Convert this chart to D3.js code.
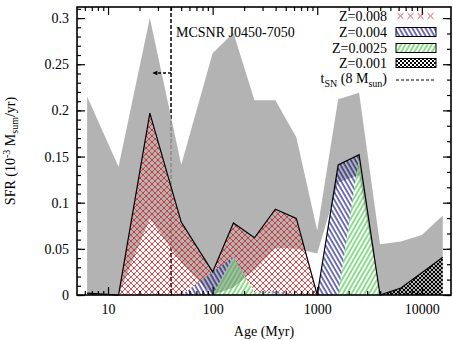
<!DOCTYPE html>
<html>
<head>
<meta charset="utf-8">
<script src="https://cdn.jsdelivr.net/npm/d3@7"></script>
<style>
  body { margin: 0; background: #fff; }
  text { font-family: "Liberation Serif", "Times New Roman", serif; font-size: 14px; fill: #000; }
</style>
</head>
<body>
<div id="chart"></div>
<script>
// Age bins (Myr) and SFR per metallicity (10^-3 Msun/yr)
const ages = [6.31, 12.6, 25.1, 50.1, 100, 158, 251, 398, 631, 1000, 1585, 2512, 3981, 6310, 10000, 15849];
const sfrZ008 = [0.002, 0, 0.197, 0.079, 0, 0.0365, 0.059, 0.089, 0.083, 0, 0, 0, 0, 0, 0, 0];
const sfrZ004 = [0, 0, 0, 0, 0.025, 0, 0, 0.002, 0, 0, 0.141, 0.002, 0, 0, 0, 0];
const sfrZ0025 = [0, 0, 0, 0, 0, 0.0415, 0.003, 0.002, 0, 0, 0, 0.150, 0, 0, 0, 0];
const sfrZ001 = [0, 0, 0, 0, 0, 0, 0, 0, 0, 0, 0, 0, 0, 0.0075, 0.024, 0.041];

// error envelope of the total SFR
const sfrUpper = [0.215, 0.139, 0.300, 0.141, 0.262, 0.284, 0.211, 0.211, 0.171, 0.070, 0.212, 0.219, 0.055, 0.058, 0.065, 0.086];
const sfrLower = [0, 0, 0.083, 0.035, 0, 0.008, 0.027, 0.051, 0.050, 0.045, 0.122, 0.130, 0, 0, 0, 0];

// SN progenitor lifetime (8 Msun) and its limit arrow
const snAge = 40;
const snAgeLimit = 26.5;
const snArrowSfr = 0.2405;

const xMajorTicks = [10, 100, 1000, 10000];
const yMajorTicks = [0, 0.05, 0.1, 0.15, 0.2, 0.25, 0.3];

const legendItems = [
  { key: "z008", label: "Z=0.008" },
  { key: "z004", label: "Z=0.004" },
  { key: "z0025", label: "Z=0.0025" },
  { key: "z001", label: "Z=0.001" }
];

const margin = { top: 7, right: 2, bottom: 45, left: 77 };
const width = 453 - margin.left - margin.right;
const height = 340 - margin.top - margin.bottom;

const svg = d3.select("#chart")
  .append("svg")
  .attr("width", 453)
  .attr("height", 340);

// hatch patterns
const defs = svg.append("defs");

const pRed = defs.append("pattern").attr("id", "pat-z008")
  .attr("patternUnits", "userSpaceOnUse").attr("width", 6).attr("height", 6);
pRed.append("path").attr("d", "M0,0L6,6M6,0L0,6")
  .attr("stroke", "#d81c1c").attr("stroke-width", 0.75).attr("fill", "none");
pRed.append("circle").attr("cx", 3).attr("cy", 3).attr("r", 0.7).attr("fill", "#d81c1c");

const pBlue = defs.append("pattern").attr("id", "pat-z004")
  .attr("patternUnits", "userSpaceOnUse").attr("width", 3.8).attr("height", 10)
  .attr("patternTransform", "rotate(-30)");
pBlue.append("line").attr("x1", 1).attr("y1", 0).attr("x2", 1).attr("y2", 10)
  .attr("stroke", "#00007c").attr("stroke-width", 1.1);

const pGreen = defs.append("pattern").attr("id", "pat-z0025")
  .attr("patternUnits", "userSpaceOnUse").attr("width", 3.8).attr("height", 10)
  .attr("patternTransform", "rotate(30)");
pGreen.append("line").attr("x1", 1).attr("y1", 0).attr("x2", 1).attr("y2", 10)
  .attr("stroke", "#2fc42f").attr("stroke-width", 1.1);

const pBlack = defs.append("pattern").attr("id", "pat-z001")
  .attr("patternUnits", "userSpaceOnUse").attr("width", 4).attr("height", 4);
pBlack.append("rect").attr("x", 0).attr("y", 0).attr("width", 2).attr("height", 2).attr("fill", "#000");
pBlack.append("rect").attr("x", 2).attr("y", 2).attr("width", 2).attr("height", 2).attr("fill", "#000");

const pRedKey = defs.append("pattern").attr("id", "pat-z008-key")
  .attr("patternUnits", "userSpaceOnUse").attr("width", 10).attr("height", 9)
  .attr("x", 396).attr("y", 11.5);
pRedKey.append("path").attr("d", "M1.5,1.5L7.5,7.5M7.5,1.5L1.5,7.5")
  .attr("stroke", "#e03030").attr("stroke-width", 0.9).attr("fill", "none");

const g = svg.append("g")
  .attr("transform", "translate(" + margin.left + "," + margin.top + ")");

const x = d3.scaleLog()
  .domain([5.05, 19000])
  .range([0, width]);

const y = d3.scaleLinear()
  .domain([0, 0.312])
  .range([height, 0]);

// SN lifetime line (drawn below the envelope)
g.append("line")
  .attr("x1", x(snAge)).attr("x2", x(snAge))
  .attr("y1", 0).attr("y2", height)
  .attr("stroke", "#000").attr("stroke-width", 1.5)
  .attr("stroke-dasharray", "4,2");

// error envelope
const band = d3.area()
  .x((d, i) => x(ages[i]))
  .y0((d, i) => y(sfrLower[i]))
  .y1((d, i) => y(sfrUpper[i]));

g.append("path")
  .datum(ages)
  .attr("d", band)
  .attr("fill", "rgb(164,164,164)")
  .attr("fill-opacity", 0.83);

// stacked metallicity contributions
const rows = ages.map((a, i) => ({
  age: a, z001: sfrZ001[i], z0025: sfrZ0025[i], z004: sfrZ004[i], z008: sfrZ008[i]
}));
const series = d3.stack().keys(["z001", "z0025", "z004", "z008"])(rows);

const stackArea = d3.area()
  .x(d => x(d.data.age))
  .y0(d => y(d[0]))
  .y1(d => y(d[1]));

g.selectAll(".layer")
  .data(series)
  .enter().append("path")
  .attr("class", "layer")
  .attr("d", stackArea)
  .attr("fill", d => "url(#pat-" + d.key + ")");

// total SFR outline
const total = rows.map(r => r.z001 + r.z0025 + r.z004 + r.z008);
g.append("path")
  .datum(total)
  .attr("d", d3.line().x((d, i) => x(ages[i])).y(d => y(d)))
  .attr("fill", "none")
  .attr("stroke", "#000")
  .attr("stroke-width", 1.2);

// arrow towards younger ages
g.append("line")
  .attr("x1", x(snAge)).attr("x2", x(snAgeLimit) + 3)
  .attr("y1", y(snArrowSfr)).attr("y2", y(snArrowSfr))
  .attr("stroke", "#000").attr("stroke-width", 1.3)
  .attr("stroke-dasharray", "3,2");
g.append("path")
  .attr("d", "M" + x(snAgeLimit) + "," + y(snArrowSfr) + "l5,-2.2v4.4z")
  .attr("fill", "#000");

g.append("text")
  .attr("x", x(snAge) + 5)
  .attr("y", 30)
  .text("MCSNR J0450-7050");

// frame
g.append("rect")
  .attr("width", width).attr("height", height)
  .attr("fill", "none").attr("stroke", "#000").attr("stroke-width", 1.6);

// minor log ticks
const xMinorTicks = [];
[1, 10, 100, 1000, 10000].forEach(dec => {
  for (let k = 2; k <= 9; k++) {
    const v = dec * k;
    if (v > x.domain()[0] && v < x.domain()[1]) xMinorTicks.push(v);
  }
});
const yMinorTicks = d3.range(0, 0.311, 0.01);
const y2MinorTicks = d3.range(0, 0.311, 0.05 / 3);

function drawAxis(axis, transform) {
  const a = g.append("g").attr("transform", transform).call(axis);
  a.select(".domain").remove();
  a.selectAll("line").attr("stroke", "#000").attr("stroke-width", 1.2);
  a.selectAll("text").attr("font-size", null).attr("fill", null);
  a.attr("font-family", null).attr("font-size", null);
  return a;
}

drawAxis(d3.axisBottom(x).tickValues(xMajorTicks).tickSize(-8).tickPadding(9)
  .tickFormat(d3.format("d")), "translate(0," + height + ")");
drawAxis(d3.axisBottom(x).tickValues(xMinorTicks).tickSize(-4).tickFormat(""),
  "translate(0," + height + ")");
drawAxis(d3.axisTop(x).tickValues(xMajorTicks).tickSize(-8).tickFormat(""), "translate(0,0)");
drawAxis(d3.axisTop(x).tickValues(xMinorTicks).tickSize(-4).tickFormat(""), "translate(0,0)");

drawAxis(d3.axisLeft(y).tickValues(yMajorTicks).tickSize(-8).tickPadding(8)
  .tickFormat(d => d === 0 ? "0" : String(+d.toFixed(2))), "translate(0,0)");
drawAxis(d3.axisLeft(y).tickValues(yMinorTicks).tickSize(-4).tickFormat(""), "translate(0,0)");
drawAxis(d3.axisRight(y).tickValues(yMajorTicks).tickSize(-8).tickFormat(""),
  "translate(" + width + ",0)");
drawAxis(d3.axisRight(y).tickValues(y2MinorTicks).tickSize(-4).tickFormat(""),
  "translate(" + width + ",0)");

// axis titles
g.append("text")
  .attr("x", width / 2)
  .attr("y", height + 41)
  .attr("text-anchor", "middle")
  .text("Age (Myr)");

const yTitle = svg.append("text")
  .attr("transform", "translate(15," + (margin.top + height / 2) + ") rotate(-90)")
  .attr("text-anchor", "middle");
yTitle.append("tspan").text("SFR (10");
yTitle.append("tspan").attr("dy", -5).attr("font-size", "10px").text("-3");
yTitle.append("tspan").attr("dy", 5).text(" M");
yTitle.append("tspan").attr("dy", 3).attr("font-size", "10px").text("sum");
yTitle.append("tspan").attr("dy", -3).text("/yr)");

// legend
const legendX = 387;
const legendRowY = [16, 32, 48, 63, 80];

legendItems.forEach((item, i) => {
  svg.append("text")
    .attr("x", legendX).attr("y", legendRowY[i] + 5)
    .attr("text-anchor", "end")
    .text(item.label);
  const r = svg.append("rect")
    .attr("x", 396).attr("y", legendRowY[i] - 4.5)
    .attr("width", 40).attr("height", 9);
  if (item.key === "z008") {
    r.attr("fill", "url(#pat-z008-key)");
  } else {
    r.attr("fill", "url(#pat-" + item.key + ")")
      .attr("stroke", "#000").attr("stroke-width", 1);
  }
});

const snLabel = svg.append("text")
  .attr("x", legendX).attr("y", legendRowY[4] + 3)
  .attr("text-anchor", "end");
snLabel.append("tspan").text("t");
snLabel.append("tspan").attr("dy", 4).attr("font-size", "10px").text("SN");
snLabel.append("tspan").attr("dy", -4).text(" (8 M");
snLabel.append("tspan").attr("dy", 4).attr("font-size", "10px").text("sun");
snLabel.append("tspan").attr("dy", -4).text(")");

svg.append("line")
  .attr("x1", 396).attr("x2", 436)
  .attr("y1", legendRowY[4]).attr("y2", legendRowY[4])
  .attr("stroke", "#000").attr("stroke-width", 1)
  .attr("stroke-dasharray", "3,2");
</script>
</body>
</html>
